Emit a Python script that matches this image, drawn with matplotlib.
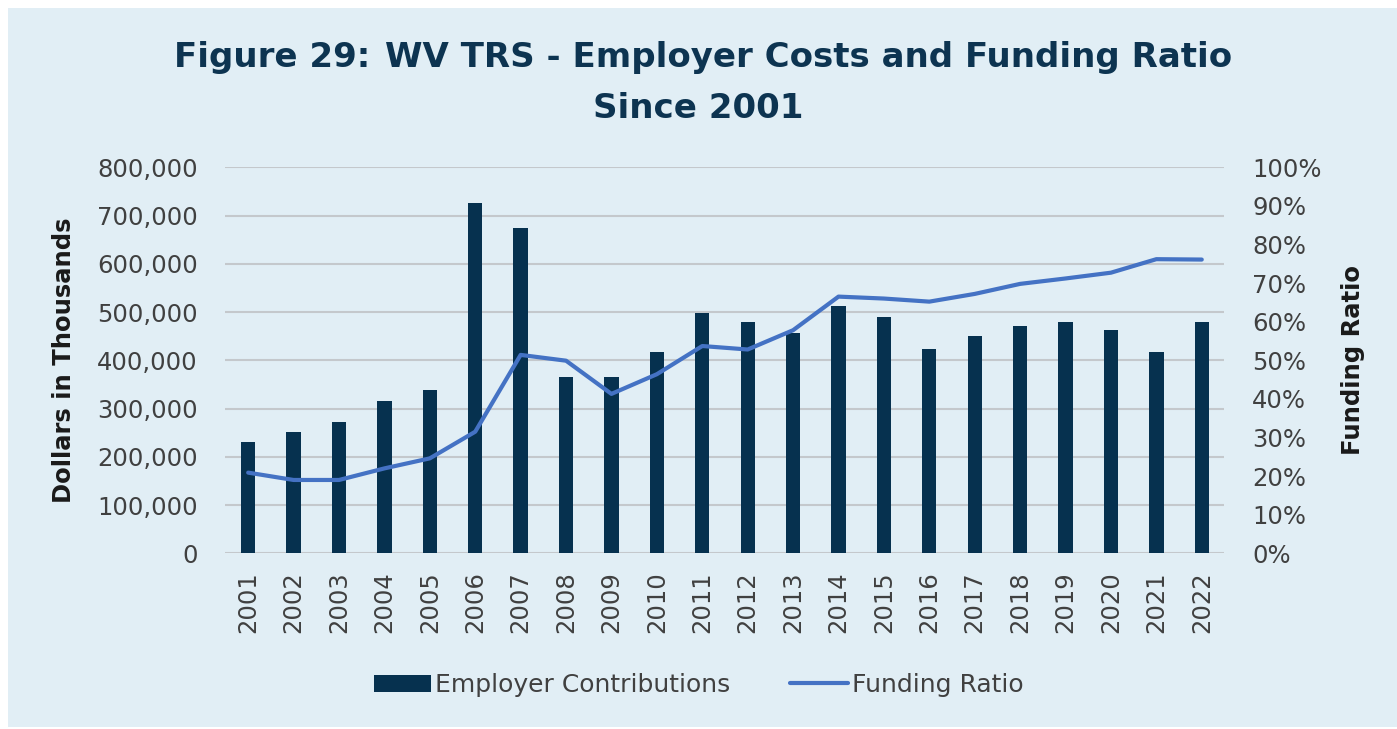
import matplotlib
matplotlib.use("Agg")
import matplotlib.pyplot as plt
from matplotlib.patches import Rectangle
from matplotlib.ticker import FuncFormatter
import numpy as np

years = [str(y) for y in range(2001, 2023)]
employer_contributions = [231000, 251000, 273000, 316000, 338000, 727000, 674000,
                          366000, 366000, 417000, 499000, 479000, 457000, 513000,
                          489000, 423000, 450000, 471000, 479000, 462000, 417000, 480000]
funding_ratio = [20.9, 19.0, 19.0, 22.0, 24.6, 31.5, 51.4, 49.9, 41.3, 46.4, 53.7,
                 52.8, 57.8, 66.5, 66.0, 65.2, 67.2, 69.8, 71.2, 72.7, 76.2, 76.1]

BG = "#E1EEF5"
NAVY = "#06314F"
BLUE = "#4472C4"
TXT = "#404040"
TITLE = "#0D3451"
FS = 17.5

plt.rcParams['font.family'] = ['DejaVu Sans']

W, H = 1397, 729
fig = plt.figure(figsize=(W/100, H/100), dpi=100, facecolor="white")
bg = Rectangle((8/W, 2/H), 1 - 8/W, 719/H, transform=fig.transFigure,
               facecolor=BG, edgecolor="none", zorder=-10)
fig.patches.append(bg)

ax = fig.add_axes([0.1614, 0.241, 0.7151, 0.5295])
ax.set_facecolor("none")
x = np.arange(len(years))
ax.bar(x, employer_contributions, width=0.315, color=NAVY, zorder=3,
       label="Employer Contributions")
ax.set_xlim(-0.5, len(years) - 0.5)
ax.set_ylim(0, 800000)
ax.set_yticks(np.arange(0, 800001, 100000))
ax.yaxis.set_major_formatter(FuncFormatter(lambda v, p: f"{int(v):,}"))
ax.grid(axis="y", color="#C4C8CC", linewidth=1.5, zorder=0)
ax.set_axisbelow(True)
ax.set_xticks(x)
ax.set_xticklabels(years, rotation=90, fontsize=FS, color=TXT)
ax.tick_params(axis="y", labelsize=FS, colors=TXT, length=0, pad=20)
ax.tick_params(axis="x", length=0, pad=13)
for s in ax.spines.values():
    s.set_visible(False)
ax.set_ylabel("Dollars in Thousands", fontsize=FS, fontweight="bold",
              color="#1a1a1a", labelpad=15)

ax2 = ax.twinx()
ax2.plot(x, funding_ratio, color=BLUE, linewidth=3, zorder=4,
         label="Funding Ratio", solid_capstyle="round")
ax2.set_ylim(0, 100)
ax2.set_yticks(np.arange(0, 101, 10))
ax2.yaxis.set_major_formatter(FuncFormatter(lambda v, p: f"{int(v)}%"))
ax2.tick_params(axis="y", labelsize=FS, colors=TXT, length=0, pad=20)
for s in ax2.spines.values():
    s.set_visible(False)
ax2.set_ylabel("Funding Ratio", fontsize=FS, fontweight="bold",
               color="#1a1a1a", labelpad=14)

h1, l1 = ax.get_legend_handles_labels()
h2, l2 = ax2.get_legend_handles_labels()
fig.legend(h1 + h2, l1 + l2, loc="center", bbox_to_anchor=(0.5, 1 - 685/H),
           ncol=2, frameon=False, fontsize=18, handlelength=2.3,
           handletextpad=0.15, columnspacing=2.4, labelcolor=TXT)

# title: two parts on first line, measured and centred
y1 = 1 - 58/H
TFS = 24.5
t1 = fig.text(0, y1, "Figure 29:", fontsize=TFS, fontweight="heavy",
              color=TITLE, ha="left", va="center")
t2 = fig.text(0, y1, "WV TRS - Employer Costs and Funding Ratio",
              fontsize=TFS, fontweight="bold", color=TITLE, ha="left", va="center")
fig.text(0.5, 1 - 108/H, "Since 2001", fontsize=TFS, fontweight="bold",
         color=TITLE, ha="center", va="center")
r = fig.canvas.get_renderer()
w1 = t1.get_window_extent(r).width
w2 = t2.get_window_extent(r).width
gap = 14
total = w1 + gap + w2
x0 = 703 - total / 2
t1.set_x(x0 / W)
t2.set_x((x0 + w1 + gap) / W)

fig.savefig("out.png", dpi=100, facecolor="white")
